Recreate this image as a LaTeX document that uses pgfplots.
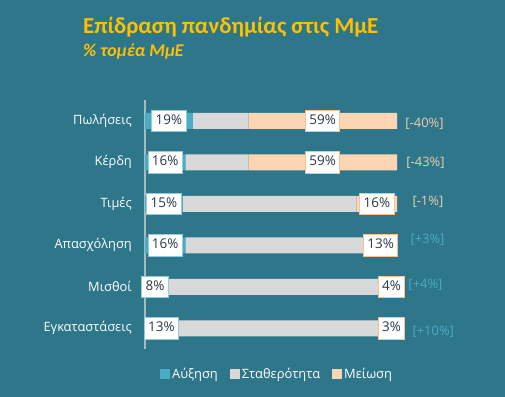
\documentclass[border=0pt]{standalone}
\usepackage{fontspec}
\setmainfont{Open Sans}
\newfontfamily\titlefont{Carlito}
\usepackage{pgfplots}
\pgfplotsset{compat=1.18}
\definecolor{bg}{RGB}{46,118,137}
\definecolor{titlecol}{RGB}{255,192,0}
\definecolor{cblue}{RGB}{75,172,198}
\definecolor{cgrey}{RGB}{217,217,217}
\definecolor{cpeach}{RGB}{252,213,181}
\definecolor{cpeachb}{RGB}{250,192,144}
\definecolor{lbltext}{RGB}{40,55,72}
\definecolor{negcol}{RGB}{240,205,172}
\definecolor{axisgrey}{RGB}{170,185,190}
\begin{document}
\begin{tikzpicture}
\path[use as bounding box, fill=bg] (0bp,0bp) rectangle (505bp,397bp);
\node[anchor=base west, font=\titlefont\bfseries\fontsize{23}{26}\selectfont, text=titlecol, inner sep=0] at (83bp,363bp) {Επίδραση πανδημίας στις ΜμΕ};
\node[anchor=base west, font=\titlefont\bfseries\itshape\fontsize{18}{20}\selectfont, text=titlecol, inner sep=0] at (83bp,340bp) {\% τομέα ΜμΕ};
\begin{axis}[
  at={(145bp,48bp)}, anchor=south west,
  scale only axis, width=252bp, height=249bp,
  xmin=0, xmax=100, ymin=-0.5, ymax=5.5, y dir=reverse,
  xbar stacked, bar width=16bp,
  axis lines*=left,
  x axis line style={draw=none},
  y axis line style={draw=axisgrey, line width=1.3bp, -},
  xtick=\empty,
  ytick={0,...,5},
  yticklabels={Πωλήσεις,Κέρδη,Τιμές,Απασχόληση,Μισθοί,Εγκαταστάσεις},
  major tick length=0pt,
  yticklabel style={font=\fontsize{12.9}{15}\selectfont, text=white, inner sep=0pt, xshift=-13bp},
  clip=false,
  legend columns=3,
  legend style={at={(0.524,-0.1)}, anchor=center, draw=none, fill=none,
    text=white, font=\fontsize{12.9}{15}\selectfont,
    /tikz/every even column/.append style={column sep=10bp}},
  legend image code/.code={\fill[#1] (0bp,-5bp) rectangle (10bp,5bp);},
]
\addplot[fill=cblue, draw=none] coordinates {(19,0) (16,1) (15,2) (16,3) (8,4) (13,5)};
\addplot[fill=cgrey, draw=none] coordinates {(22,0) (25,1) (69,2) (71,3) (88,4) (84,5)};
\addplot[fill=cpeach, draw=none] coordinates {(59,0) (59,1) (16,2) (13,3) (4,4) (3,5)};
\legend{Αύξηση,Σταθερότητα,Μείωση}
\end{axis}
\begin{axis}[
  at={(145bp,48bp)}, anchor=south west,
  scale only axis, width=252bp, height=249bp,
  xmin=0, xmax=100, ymin=-0.5, ymax=5.5, y dir=reverse,
  hide axis, clip=false,
  every node near coord/.style={anchor=center, font=\fontsize{13.5}{15}\selectfont, text=lbltext,
     fill=white, inner xsep=4bp, inner ysep=4.2bp, text height=10bp, text depth=3bp, line width=0.8bp},
]
\addplot[draw=none, mark=none, point meta=explicit symbolic,
  nodes near coords={\pgfplotspointmeta\%}, nodes near coords style={draw=cblue!60!white, anchor=center}]
  coordinates {(9.5,0) [19] (8,1) [16] (7.5,2) [15] (8,3) [16] (4,4) [8] (6.5,5) [13]};
\addplot[draw=none, mark=none, point meta=explicit symbolic,
  nodes near coords={\pgfplotspointmeta\%}, nodes near coords style={draw=cpeachb, anchor=center}]
  coordinates {(70.5,0) [59] (70.5,1) [59] (92,2) [16] (93.5,3) [13] (97.8,4) [4] (97.8,5) [3]};
\addplot[draw=none, mark=none, point meta=explicit symbolic,
  nodes near coords={[\pgfplotspointmeta\%]}, nodes near coords style={anchor=west, fill=none, draw=none, inner xsep=0pt, text=negcol, font=\fontsize{13}{15}\selectfont}]
  coordinates {(103.2,0.07) [-40] (103.6,1.02) [-43] (106,1.95) [-1]};
\addplot[draw=none, mark=none, point meta=explicit symbolic,
  nodes near coords={[\pgfplotspointmeta\%]}, nodes near coords style={anchor=west, fill=none, draw=none, inner xsep=0pt, text=cblue, font=\fontsize{13}{15}\selectfont}]
  coordinates {(105.2,2.88) [+3] (104.4,3.95) [+4] (106,5.1) [+10]};
\end{axis}
\end{tikzpicture}
\end{document}
